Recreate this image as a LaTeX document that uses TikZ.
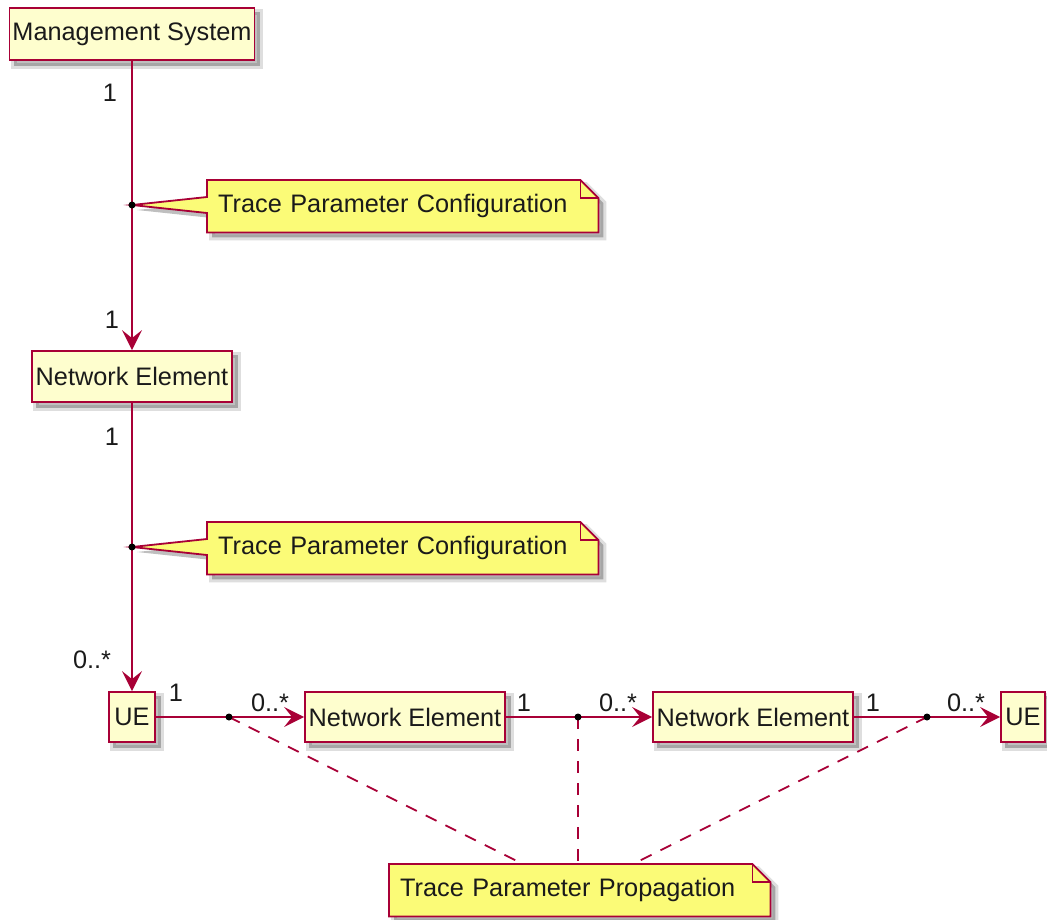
\documentclass[tikz,border=0pt]{standalone}
\usepackage{fontspec}
\setmainfont{Liberation Sans}
\usetikzlibrary{arrows.meta}
\definecolor{umlred}{HTML}{A80036}
\definecolor{clsfill}{HTML}{FEFECE}
\definecolor{notefill}{HTML}{FBFB77}
\definecolor{txt}{HTML}{1A1A1A}
\pgfdeclarelayer{background}
\pgfsetlayers{background,main}
\tikzset{
  umlfont/.style={font=\fontsize{25.3}{30}\selectfont, text=txt},
  cls/.style={draw=umlred, fill=clsfill, line width=1.8pt, inner sep=0pt, umlfont},
  conn/.style={draw=umlred, line width=1.8pt},
  arr/.style={-{Stealth[length=20pt,width=20pt,inset=8pt]}},
  mult/.style={inner sep=0pt, umlfont},
  notenode/.style={anchor=north west, inner xsep=11pt, inner ysep=0pt, minimum height=52pt, align=left, umlfont},
  notebox/.style={draw=umlred, fill=notefill, line width=1.8pt, line join=miter},
  shadowc/.style={fill=black, opacity=0.25},
  shadowe/.style={draw=black, opacity=0.13, line width=6pt},
  dashc/.style={draw=umlred, line width=1.8pt, dash pattern=on 12pt off 10pt},
}
\begin{document}
\begin{tikzpicture}[x=1pt,y=-1pt]
\useasboundingbox (0,0) rectangle (1047,919);
% class boxes
\node[cls, minimum width=245pt, minimum height=52pt] (ms) at (132,34) {Management System};
\node[cls, minimum width=200pt, minimum height=51pt] (ne1) at (132,376.5) {Network Element};
\node[cls, minimum width=46pt, minimum height=50pt] (ue1) at (132,717) {UE};
\node[cls, minimum width=200pt, minimum height=50pt] (ne2) at (405,717) {Network Element};
\node[cls, minimum width=200pt, minimum height=50pt] (ne3) at (753,717) {Network Element};
\node[cls, minimum width=44pt, minimum height=50pt] (ue2) at (1023,717) {UE};
% junction points
\coordinate (d1) at (132,205);
\coordinate (d2) at (132,547);
\coordinate (d3) at (229,717);
\coordinate (d4) at (578,717);
\coordinate (d5) at (927,717);
% notes (text)
\node[notenode, minimum width=391pt, text width=369pt] (n1) at (207,180) {Trace Parameter Configuration};
\node[notenode, minimum width=391pt, text width=369pt] (n2) at (207,522) {Trace Parameter Configuration};
\node[notenode, minimum width=381pt, text width=359pt] (n3) at (389,864) {Trace Parameter Propagation};
% shadows and note shapes
\begin{pgfonlayer}{background}
  \begin{scope}[transform canvas={shift={(5pt,-5pt)}}]
    \foreach \n in {ms,ne1,ue1,ne2,ne3,ue2} {
      \fill[shadowc] (\n.north west) rectangle (\n.south east);
      \draw[shadowe] (\n.north west) rectangle (\n.south east);
    }
    \foreach \n/\d in {n1/d1,n2/d2} {
      \path[shadowc] (\n.north west) -- ([xshift=-18pt]\n.north east) -- ([yshift=-18pt]\n.north east) -- (\n.south east) -- (\n.south west) -- ([yshift=-33pt]\n.north west) -- (\d) -- ([yshift=-17pt]\n.north west) -- cycle;
      \path[shadowe] (\n.north west) -- ([xshift=-18pt]\n.north east) -- ([yshift=-18pt]\n.north east) -- (\n.south east) -- (\n.south west) -- cycle;
    }
    \path[shadowc] (n3.north west) -- ([xshift=-18pt]n3.north east) -- ([yshift=-18pt]n3.north east) -- (n3.south east) -- (n3.south west) -- cycle;
    \path[shadowe] (n3.north west) -- ([xshift=-18pt]n3.north east) -- ([yshift=-18pt]n3.north east) -- (n3.south east) -- (n3.south west) -- cycle;
  \end{scope}
  \foreach \n/\d in {n1/d1,n2/d2} {
    \path[notebox] (\n.north west) -- ([xshift=-18pt]\n.north east) -- ([yshift=-18pt]\n.north east) -- (\n.south east) -- (\n.south west) -- ([yshift=-33pt]\n.north west) -- (\d) -- ([yshift=-17pt]\n.north west) -- cycle;
    \draw[umlred, line width=1.8pt] ([xshift=-18pt]\n.north east) -- ++(0,18) -- ([yshift=-18pt]\n.north east);
  }
  \path[notebox] (n3.north west) -- ([xshift=-18pt]n3.north east) -- ([yshift=-18pt]n3.north east) -- (n3.south east) -- (n3.south west) -- cycle;
  \draw[umlred, line width=1.8pt] ([xshift=-18pt]n3.north east) -- ++(0,18) -- ([yshift=-18pt]n3.north east);
\end{pgfonlayer}
% connectors
\draw[conn] (ms) -- (d1);
\draw[conn, arr] (d1) -- (ne1);
\draw[conn] (ne1) -- (d2);
\draw[conn, arr] (d2) -- (ue1);
\draw[conn] (ue1) -- (d3);
\draw[conn, arr] (d3) -- (ne2);
\draw[conn] (ne2) -- (d4);
\draw[conn, arr] (d4) -- (ne3);
\draw[conn] (ne3) -- (d5);
\draw[conn, arr] (d5) -- (ue2);
% dashed note links
\coordinate (p3a) at (523,864);
\coordinate (p3b) at (578,864);
\coordinate (p3c) at (633,864);
\draw[dashc] (d3) -- (p3a);
\draw[dashc] (d4) -- (p3b);
\draw[dashc] (d5) -- (p3c);
% dots
\foreach \d in {d1,d2,d3,d4,d5} \fill[black] (\d) circle (3.5pt);
% multiplicities
\node[mult] (m1) at (110,93) {1};
\node[mult] (m2) at (112,320) {1};
\node[mult] (m3) at (112,437) {1};
\node[mult] (m4) at (92,660) {0..*};
\node[mult] (m5) at (176,693) {1};
\node[mult] (m6) at (270,703) {0..*};
\node[mult] (m7) at (524,703) {1};
\node[mult] (m8) at (618,703) {0..*};
\node[mult] (m9) at (873,703) {1};
\node[mult] (m10) at (966,703) {0..*};
\end{tikzpicture}
\end{document}
